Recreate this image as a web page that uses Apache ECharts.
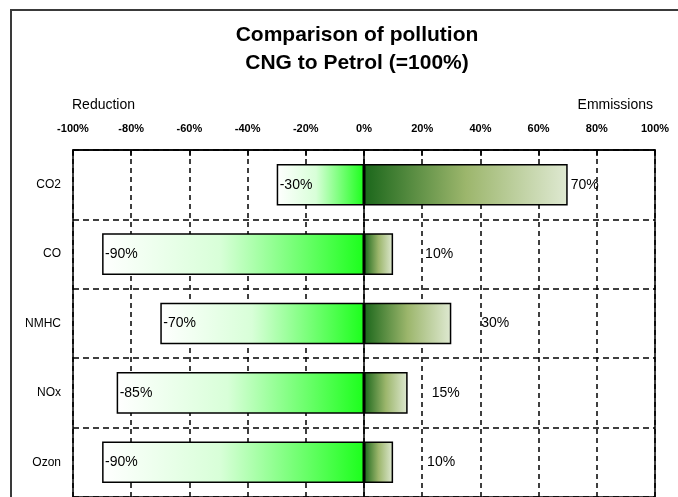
<!DOCTYPE html>
<html>
<head>
<meta charset="utf-8">
<script src="https://cdn.jsdelivr.net/npm/echarts@6/dist/echarts.min.js"></script>
<style>
html,body{margin:0;padding:0;background:#fff;}
#chart{width:678px;height:497px;}
</style>
</head>
<body>
<div id="chart"></div>
<script>
// ---- data ----
const categories = ['CO2', 'CO', 'NMHC', 'NOx', 'Ozon'];
const reduction = [-30, -90, -70, -85, -90];
const emissions = [70, 10, 30, 15, 10];
const tickMin = -100, tickMax = 100, tickStep = 20;
const titleLines = ['Comparison of pollution', 'CNG to Petrol (=100%)'];
const leftCaption = 'Reduction';
const rightCaption = 'Emmissions';

// label spacing (style) for the emission labels
const emissionLabelGap = [3, 32, 30, 24, 34];

const chart = echarts.init(document.getElementById('chart'), null, {renderer: 'canvas'});
const FONT = 'Liberation Sans, Arial, sans-serif';

const negGrad = new echarts.graphic.LinearGradient(0, 0, 1, 0, [
  {offset: 0, color: '#ffffff'},
  {offset: 0.45, color: '#d8ffd8'},
  {offset: 1, color: '#1cff1c'}
]);
const posGrad = new echarts.graphic.LinearGradient(0, 0, 1, 0, [
  {offset: 0, color: '#1b671b'},
  {offset: 0.5, color: '#9cb66c'},
  {offset: 1, color: '#dfe9d2'}
]);

const option = {
  animation: false,
  backgroundColor: '#fff',
  textStyle: {fontFamily: FONT},
  graphic: [
    {type: 'rect', shape: {x: 11, y: 10, width: 720, height: 540}, style: {fill: 'none', stroke: '#3a3a3a', lineWidth: 2}, z: -10, silent: true},
    {type: 'text', x: 357, y: 25, style: {text: titleLines[0], font: 'bold 21px ' + FONT, fill: '#000', align: 'center'}},
    {type: 'text', x: 357, y: 53, style: {text: titleLines[1], font: 'bold 21px ' + FONT, fill: '#000', align: 'center'}},
    {type: 'text', x: 72, y: 98, style: {text: leftCaption, font: '14px ' + FONT, fill: '#000', align: 'left'}},
    {type: 'text', x: 653, y: 98, style: {text: rightCaption, font: '14px ' + FONT, fill: '#000', align: 'right'}}
  ],
  grid: {left: 73, right: 23, top: 150, bottom: -4, show: true, borderColor: '#000', borderWidth: 1.5, backgroundColor: 'transparent'},
  xAxis: {
    type: 'value', position: 'top', min: tickMin, max: tickMax, interval: tickStep,
    axisLine: {show: true, lineStyle: {color: '#000', width: 1.5}},
    axisTick: {show: true, inside: true, length: 6, lineStyle: {color: '#000', width: 1.5}},
    axisLabel: {formatter: '{value}%', fontSize: 11, fontWeight: 'bold', color: '#000', margin: 16, fontFamily: FONT},
    splitLine: {show: true, lineStyle: {color: '#000', width: 1.5, type: [5, 4]}}
  },
  yAxis: {
    type: 'category', data: categories, inverse: true,
    axisLine: {show: false}, axisTick: {show: false},
    axisLabel: {fontSize: 12, color: '#000', margin: 12, fontFamily: FONT},
    splitLine: {show: true, lineStyle: {color: '#000', width: 1.5, type: [6, 4]}}
  },
  series: [
    {
      name: 'Reduction', type: 'bar', stack: 'pollution', barWidth: '60%',
      data: reduction,
      itemStyle: {color: negGrad, borderColor: '#000', borderWidth: 1.5},
      label: {show: true, position: 'insideLeft', distance: 3, formatter: '{c}%', fontSize: 14, color: '#000', fontFamily: FONT},
      z: 3
    },
    {
      name: 'Emmissions', type: 'bar', stack: 'pollution', barWidth: '60%',
      data: emissions.map((v, i) => ({value: v, label: {distance: emissionLabelGap[i]}})),
      itemStyle: {color: posGrad, borderColor: '#000', borderWidth: 1.5},
      label: {show: true, position: 'right', formatter: '{c}%', fontSize: 14, color: '#000', fontFamily: FONT},
      markLine: {silent: true, symbol: 'none', label: {show: false}, lineStyle: {color: '#000', width: 1.5, type: 'solid'}, data: [{xAxis: 0}]},
      z: 3
    }
  ]
};
chart.setOption(option);
</script>
</body>
</html>
